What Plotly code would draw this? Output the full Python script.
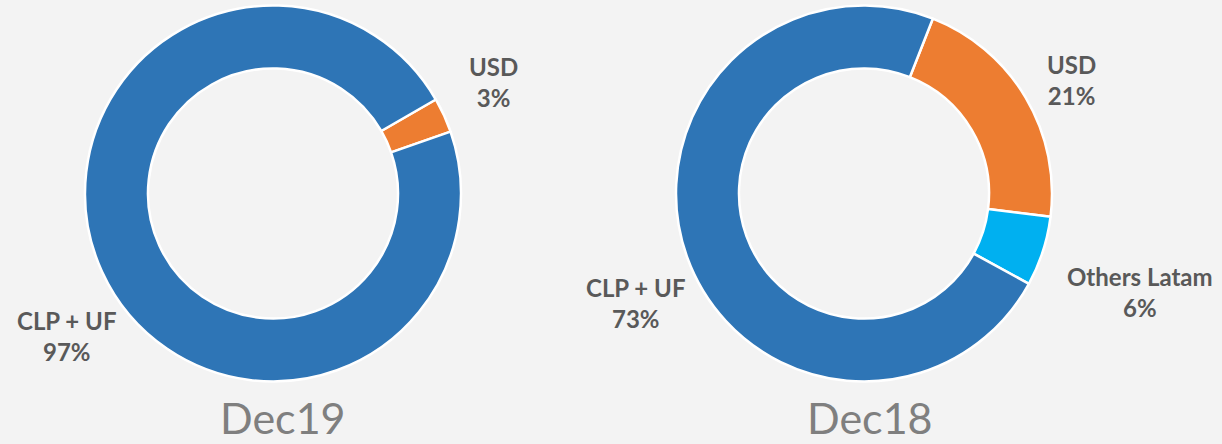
import plotly.graph_objects as go

# Data
dec19_labels = ["USD", "CLP + UF"]
dec19_values = [3, 97]
dec18_labels = ["USD", "Others Latam", "CLP + UF"]
dec18_values = [21, 6, 73]
titles = ["Dec19", "Dec18"]

color_map = {"USD": "#ED7D31", "Others Latam": "#00B0F0", "CLP + UF": "#2E75B6"}

W, H = 1222, 444
def px(x): return x / W
def py(y): return 1 - y / H

fig = go.Figure()

R = 188
cy = 193.5
for labels, values, cx, rot in [(dec19_labels, dec19_values, 273, 60),
                                (dec18_labels, dec18_values, 864, 21.5)]:
    fig.add_trace(go.Pie(
        labels=labels, values=values, sort=False, direction="clockwise",
        rotation=rot, hole=0.665, textinfo="none", hoverinfo="label+percent",
        marker=dict(colors=[color_map[l] for l in labels], line=dict(color="white", width=2.5)),
        domain=dict(x=[px(cx - R), px(cx + R)], y=[py(cy + R), py(cy - R)]),
        showlegend=False,
    ))

label_pos = [
    (dec19_labels[0], dec19_values[0], 494, 82),
    (dec19_labels[1], dec19_values[1], 67, 336),
    (dec18_labels[0], dec18_values[0], 1071, 80),
    (dec18_labels[1], dec18_values[1], 1140, 292),
    (dec18_labels[2], dec18_values[2], 636, 303),
]
annotations = []
for lab, val, x, y in label_pos:
    annotations.append(dict(
        text=f"<b>{lab}<br>{val}%</b>", x=px(x), y=py(y), xref="paper", yref="paper",
        xanchor="center", yanchor="middle", showarrow=False,
        font=dict(family="Lato", size=24, color="#595959"), align="center"))

for t, x in zip(titles, [283, 870]):
    annotations.append(dict(
        text=t, x=px(x), y=0, xref="paper", yref="paper",
        xanchor="center", yanchor="bottom", showarrow=False, borderpad=0,
        font=dict(family="Lato", size=43, color="#7F7F7F")))

fig.update_layout(
    width=W, height=H, margin=dict(l=0, r=0, t=0, b=0),
    paper_bgcolor="#F3F3F3", plot_bgcolor="#F3F3F3",
    annotations=annotations,
)

fig.write_html("out.html", config={"displayModeBar": False},
               post_script="document.body.style.margin='0';document.body.style.background='#F3F3F3';")
